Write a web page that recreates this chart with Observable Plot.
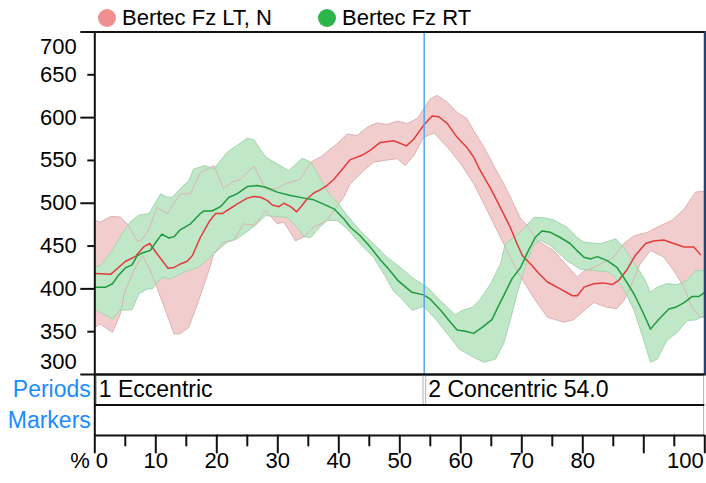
<!DOCTYPE html>
<html>
<head>
<meta charset="utf-8">
<script src="https://cdn.jsdelivr.net/npm/d3@7"></script>
<script src="https://cdn.jsdelivr.net/npm/@observablehq/plot@0.6"></script>
<style>
  html, body { margin: 0; padding: 0; background: #fff; }
  #legend { position: relative; height: 28px; box-sizing: border-box; padding: 9px 0 0 98px; display: flex; align-items: flex-start;
            font-family: 'Liberation Sans', Arial, sans-serif; font-size: 22px; line-height: 18px; color: #000; }
  .item { display: flex; align-items: flex-start; margin-right: 46px; }
  .dot { width: 18px; height: 18px; border-radius: 50%; margin-right: 6px; }
  svg { display: block; overflow: visible; }
</style>
</head>
<body>
<div id="legend"></div>
<div id="chart"></div>
<script>
// ---------------- data ----------------
const seriesNames = ["Bertec Fz LT, N", "Bertec Fz RT"];
const seriesLegendColors = ["#f08f8f", "#2bb54b"];

// [percent of cycle, N]
const ltMean = [[0,418],[2.6,417],[5,432],[6.7,438],[8,449],[9,453],[10.2,441],[12,424],[13,425],[14,429],[15.1,432],[16,439],[17.3,460],[18.7,478],[19.8,488],[20.9,488],[22,493],[23.3,499],[25,506],[26.1,508],[27.2,507],[28.3,503],[29.1,498],[30.2,496],[31,500],[32.1,496],[33.1,490],[33.8,496],[34.8,505],[35.9,512],[37,516],[38.1,521],[39.2,528],[40.6,540],[41.9,551],[43.8,556],[45.2,562],[46.8,571],[49,573],[51.1,567],[52.3,575],[53.9,591],[55.3,602],[56.4,601],[57.8,593],[59.4,577],[61,565],[62.1,554],[63.2,538],[64.9,517],[66.5,495],[68.1,472],[69.2,453],[70.1,439],[71.7,427],[72.8,418],[74.2,408],[76.3,400],[78.3,392],[79.1,392],[80.2,402],[81.8,406],[83.4,407],[84.8,405],[85.9,410],[87.3,423],[88.6,439],[90.3,453],[91.6,456],[93.3,457],[94.9,453],[96.6,449],[98.2,449],[99.3,440]];
const ltUpper = [[0,480],[0.9,478],[2.6,484.5],[4.2,484],[5.3,476],[7.0,455.5],[7.8,458],[8.9,470],[10.2,495],[11.9,488],[14.0,511],[15.7,511],[17.3,536],[19.5,544],[21.1,517],[22.5,525],[23.6,527],[26.1,543],[28.0,517],[29.9,517],[31.3,523],[33.7,528],[35.4,548],[37.0,554],[39.7,569.5],[41.4,581],[43.0,579],[44.7,589],[46.3,594],[47.9,592],[49.6,596],[51.2,593],[52.9,599],[53.9,610],[55.0,622],[56.1,626],[57.8,618],[59.4,606],[61.0,599],[62.1,585],[63.8,565.5],[65.4,544],[67.6,515],[69.8,482],[70.9,474],[72.5,456.5],[75.2,445],[77.4,427],[79.1,414],[80.2,421],[81.8,425],[85.1,437],[86.7,453],[88.4,462],[90.6,466],[92.2,472],[94.6,480],[96.6,493],[98.5,513],[100,514]];
const ltLower = [[0,355],[0.9,359],[2.9,349],[4.2,371],[4.8,394],[6.4,421.5],[7.8,439],[9.1,421.5],[10.8,390],[13.0,347.5],[14.0,347.5],[15.4,355],[17.0,386],[18.7,421.5],[19.5,441],[21.1,454.5],[22.8,457],[24.4,476],[26.1,474],[28.0,491.5],[29.9,476],[31.0,478],[32.9,456],[34.3,461],[35.9,472],[38.1,480],[39.2,491.5],[40.8,507],[41.9,523],[44.1,538],[45.7,548],[47.4,550],[49.6,552],[50.9,544],[52.3,556],[53.9,577],[55.6,582],[57.8,565.5],[60.0,546],[62.1,523],[63.8,499],[65.4,476],[67.0,453],[69.2,421.5],[71.9,390],[74.2,367],[76.9,361],[78.5,364],[79.6,371],[81.8,384],[84.0,378.5],[85.6,377],[86.7,386],[87.8,402],[89.4,429],[91.1,445],[93.3,437],[94.9,421.5],[96.6,402],[97.9,378.5],[99.3,367],[100,367]];

const rtMean = [[0,402],[1.8,402],[2.9,406],[3.9,416],[5.0,424.5],[6.1,428],[7.0,439],[7.8,442],[9.1,445],[10.0,454.5],[11.0,464],[12.1,459.5],[13.0,461],[14.0,469],[15.7,476],[17.3,488],[17.9,491],[19.2,491],[20.6,496],[22.0,507],[23.3,511],[25.0,519.5],[26.6,520.7],[28.0,518.7],[29.9,513],[32.1,509],[34.3,506],[35.9,504],[37.5,499],[39.2,493.5],[40.8,482],[41.9,472],[43.5,462],[45.2,448.5],[46.8,434],[48.2,423],[49.8,409],[52.0,396],[53.9,393],[55.0,388],[56.7,375],[58.3,361],[59.4,352],[60.8,350.5],[62.1,348],[63.5,355],[65.1,364],[66.2,380.5],[67.3,396],[68.4,412],[69.8,425],[71.1,445],[72.2,460],[73.3,467.5],[74.7,466],[76.3,460],[77.9,453],[79.0,445],[80.2,437],[81.3,435],[82.4,437.7],[84.0,433],[85.6,425],[86.7,413.5],[88.4,394],[89.7,375],[91.1,353],[92.4,364],[94.1,376.5],[95.2,378.5],[96.6,384],[97.9,391],[99.0,391],[100,396]];
const rtUpper = [[0,426],[0.9,427],[2.9,445],[4.8,468],[5.9,479],[7.2,486],[8.9,488],[10.8,511],[11.9,507],[12.7,507],[14.0,517],[15.4,526.5],[16.2,540],[18.1,544],[19.5,540],[21.7,559.5],[23.3,567.5],[25.0,576],[26.1,574],[28.0,554],[29.9,546],[31.8,538],[34.0,552.6],[35.4,548],[37.0,528.5],[38.4,511],[40.0,499],[41.4,485.6],[43.5,468],[45.7,452.6],[47.9,437],[50.1,425],[52.3,411.7],[54.5,402],[56.1,390],[57.8,378.5],[59.1,369.6],[60.2,374.7],[61.9,378.5],[63.2,388],[64.9,406],[66.5,429],[67.3,452.6],[68.7,460],[70.3,470],[72.0,483.6],[73.6,483],[75.2,480.6],[77.4,472],[79.1,460],[80.2,454.5],[82.9,452.6],[85.4,458.4],[86.7,448.6],[88.4,431],[90.1,411.7],[91.1,396],[92.2,402],[93.8,406],[95.5,405],[97.1,410],[98.5,421],[100,422]];
const rtLower = [[0,376.5],[0.9,372.6],[2.9,365],[4.2,375],[6.1,375.5],[7.2,394],[8.6,400],[9.4,400],[11.0,413.6],[12.4,411.7],[14.0,417.5],[15.4,421.6],[17.0,425.4],[19.5,441],[21.7,454.5],[23.3,458.4],[25.0,467],[26.3,474],[28.0,485.6],[29.9,484.5],[31.5,483.6],[33.2,472],[34.3,461],[35.4,460],[37.0,473],[38.1,480],[39.7,480],[41.4,470],[43.5,452.6],[45.7,437],[47.5,416],[49.0,397],[50.1,390],[52.0,375],[53.9,379.4],[55.6,367],[57.8,347.5],[59.7,330],[61.6,322],[63.8,314.3],[65.7,318],[67.0,335.7],[68.1,363],[69.2,394],[70.9,433],[72.0,452.6],[73.1,456.5],[74.7,450.6],[77.4,433],[79.6,423],[81.8,421.5],[84.0,420],[85.1,415],[86.7,400],[88.4,375],[90.0,340],[91.1,314.3],[92.2,318],[93.8,340],[95.5,349.3],[97.1,363],[98.5,363.8],[100,369]];

const periodStarts = [0, 54];
const periodEnds = [54, 100];
const periodLabels = ["1 Eccentric", "2 Concentric 54.0"];
const rowNames = ["Periods", "Markers"];

const yMajorTicks = [300, 400, 500, 600, 700];
const yMinorTicks = [350, 450, 550, 650];
const yTickLabels = [350, 400, 450, 500, 550, 600, 650];
const yTopLabel = [700];
const yBottomLabel = [300];

const xMajorTicks = [0, 10, 20, 30, 40, 50, 60, 70, 80, 90, 100];
const xMinorTicks = [5, 15, 25, 35, 45, 55, 65, 75, 85, 95];
const xFirstLabel = [0];
const xMiddleLabels = [10, 20, 30, 40, 50, 60, 70, 80];
const xLastLabel = [100];
const xUnit = ["%"];

// ---------------- style ----------------
const FONT = "'Liberation Sans', Arial, sans-serif";
const PINK_FILL = "#f2cdcd", PINK_EDGE = "#ddb2b2", RED = "#e33b3b";
const GREEN_FILL = "#bfe7c8", GREEN_EDGE = "#a3d6ae", GREEN = "#1f9a3d";
const BLUE_LINE = "#5aa6ef", BLUE_TEXT = "#1a8cff", AXIS = "#111", GRAY = "#b0b0b0";

const rows = a => a.map(([pct, v]) => ({pct, v}));
const band = (up, lo) => rows(up).concat(rows(lo).reverse());

const tickShape = {draw(context, l) { context.moveTo(0, 0); context.lineTo(0, -l); }};

// ---------------- legend ----------------
const legend = document.getElementById("legend");
seriesNames.forEach((name, i) => {
  const item = document.createElement("div");
  item.className = "item";
  const dot = document.createElement("div");
  dot.className = "dot";
  dot.style.background = seriesLegendColors[i];
  const label = document.createElement("span");
  label.textContent = name;
  item.append(dot, label);
  legend.append(item);
});

// ---------------- main plot ----------------
const common = {
  width: 706, marginLeft: 94.3, marginRight: 1.7,
  style: {fontFamily: FONT, fontSize: "22px", color: "#000", background: "transparent", overflow: "visible"}
};

const main = Plot.plot({
  ...common,
  height: 346, marginTop: 3.5, marginBottom: 0,
  x: {domain: [0, 100], axis: null},
  y: {domain: [300, 700], axis: null},
  marks: [
    Plot.line(band(ltUpper, ltLower), {x: "pct", y: "v", fill: PINK_FILL, stroke: "none"}),
    Plot.line(band(rtUpper, rtLower), {x: "pct", y: "v", fill: GREEN_FILL, stroke: "none"}),
    Plot.line(rows(ltUpper), {x: "pct", y: "v", stroke: PINK_EDGE, strokeWidth: 1}),
    Plot.line(rows(ltLower), {x: "pct", y: "v", stroke: PINK_EDGE, strokeWidth: 1}),
    Plot.line(rows(rtUpper), {x: "pct", y: "v", stroke: GREEN_EDGE, strokeWidth: 1}),
    Plot.line(rows(rtLower), {x: "pct", y: "v", stroke: GREEN_EDGE, strokeWidth: 1}),
    Plot.line(rows(ltMean), {x: "pct", y: "v", stroke: RED, strokeWidth: 1.5}),
    Plot.line(rows(rtMean), {x: "pct", y: "v", stroke: GREEN, strokeWidth: 1.5}),
    Plot.ruleX([periodStarts[1]], {stroke: BLUE_LINE, strokeWidth: 1.5}),
    Plot.frame({stroke: AXIS, strokeWidth: 2}),
    Plot.ruleX([100], {stroke: "#26457d", strokeWidth: 1.5}),
    // y-axis ticks: long at hundreds, short at fifties, extending left of the axis
    Plot.ruleY(yMajorTicks, {x1: () => 0, x2: () => 0, insetLeft: -14, stroke: AXIS, strokeWidth: 2}),
    Plot.ruleY(yMinorTicks, {x1: () => 0, x2: () => 0, insetLeft: -7, stroke: AXIS, strokeWidth: 2}),
    Plot.text(yTickLabels, {y: d => d, text: d => String(d), frameAnchor: "left", textAnchor: "end", dx: -18, fontSize: 22}),
    Plot.text(yTopLabel, {y: d => d, text: d => String(d), frameAnchor: "left", textAnchor: "end", dx: -18, dy: 15, fontSize: 22}),
    Plot.text(yBottomLabel, {y: d => d, text: d => String(d), frameAnchor: "left", textAnchor: "end", dx: -18, dy: -12.5, fontSize: 22})
  ]
});

// ---------------- periods / markers rows + x axis ----------------
const periods = periodLabels.map((label, i) => ({label, start: periodStarts[i], end: periodEnds[i]}));
const rowTable = rowNames.map((name, i) => ({name, top: i, bottom: i + 1}));

const lower = Plot.plot({
  ...common,
  height: 109, marginTop: 0, marginBottom: 48,
  x: {domain: [0, 100], axis: null},
  y: {domain: [0, rowNames.length], reverse: true, axis: null},
  marks: [
    Plot.ruleX(periods, {x: "start", y1: () => 0, y2: () => 1, stroke: GRAY, dx: 1.5}),
    Plot.ruleX(periods, {x: "end", y1: () => 0, y2: () => 1, stroke: GRAY, dx: -1.2}),
    Plot.ruleX([100], {y1: () => 1, y2: () => 2, stroke: GRAY, dx: -1.2}),
    Plot.ruleY([0, 1, 2], {stroke: AXIS, strokeWidth: 2}),
    Plot.ruleX([0], {stroke: AXIS, strokeWidth: 2}),
    Plot.text(periods, {x: "start", y: () => 0.5, text: "label", textAnchor: "start", dx: 4, fontSize: 23}),
    Plot.text(rowTable, {y: d => d.top + 0.5, text: "name", frameAnchor: "left", textAnchor: "end", dx: -4, fill: BLUE_TEXT, fontSize: 23}),
    Plot.vector(xMajorTicks, {x: d => d, y: () => 2, length: 17, rotate: 180, anchor: "start", shape: tickShape, stroke: AXIS, strokeWidth: 2}),
    Plot.vector(xMinorTicks, {x: d => d, y: () => 2, length: 10, rotate: 180, anchor: "start", shape: tickShape, stroke: AXIS, strokeWidth: 2}),
    Plot.text(xFirstLabel, {x: d => d, text: d => String(d), frameAnchor: "bottom", textAnchor: "start", dx: 1, dy: 32, fontSize: 22}),
    Plot.text(xMiddleLabels, {x: d => d, text: d => String(d), frameAnchor: "bottom", dy: 32, fontSize: 22}),
    Plot.text(xLastLabel, {x: d => d, text: d => String(d), frameAnchor: "bottom", textAnchor: "end", dx: -1, dy: 32, fontSize: 22}),
    Plot.text(xUnit, {x: () => 0, text: d => d, frameAnchor: "bottom", textAnchor: "end", dx: -5, dy: 32, fontSize: 22})
  ]
});

document.getElementById("chart").append(main, lower);
</script>
</body>
</html>
